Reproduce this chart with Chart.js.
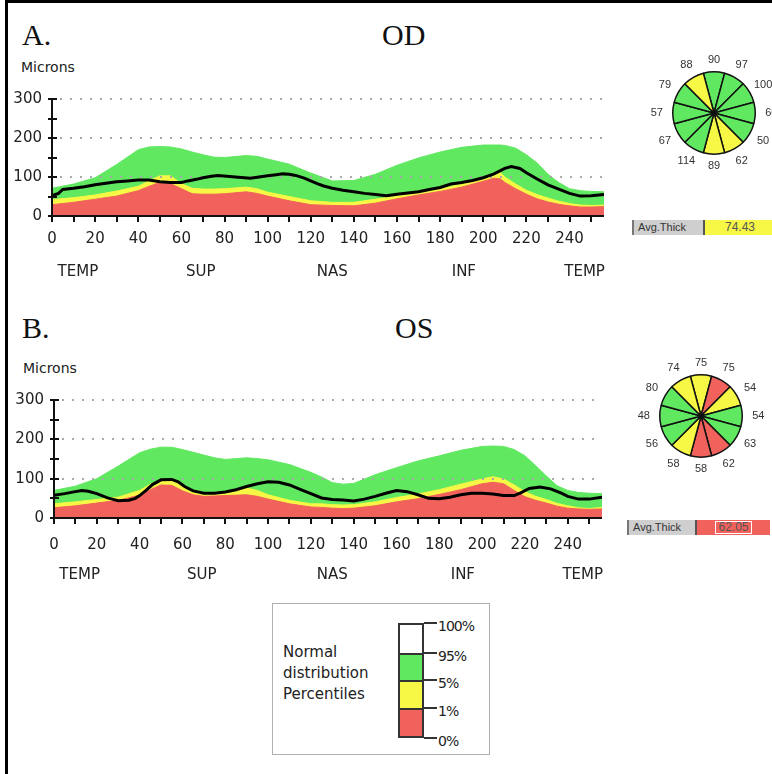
<!DOCTYPE html>
<html>
<head>
<meta charset="utf-8">
<script src="https://cdn.jsdelivr.net/npm/chart.js@4.4.1/dist/chart.umd.min.js"></script>
<style>
  html, body { margin: 0; padding: 0; background: #fff; }
  body {
    width: 772px; height: 774px; position: relative; overflow: hidden;
    font-family: "DejaVu Sans", sans-serif; color: #222;
  }
  .abs { position: absolute; }
  .frame {
    position: absolute; left: 5px; top: 0; width: 820px; height: 820px;
    border-top: 3px solid #000; border-left: 3px solid #000;
  }
  .panel-title { font-family: "Liberation Serif", serif; font-size: 30px; line-height: 30px; white-space: nowrap; color: #111; }
  .unit { font-size: 14px; line-height: 14px; white-space: nowrap; }
  .thick { position: absolute; display: flex; height: 15px; font: 11px "Liberation Sans", Arial, sans-serif; line-height: 15px; }
  .thick-label {
    background: #cfcfcf; color: #333; padding-left: 4px; box-sizing: border-box;
    border-left: 2px solid #777; border-right: 2px solid #555;
  }
  .thick-value { text-align: center; color: #555; box-sizing: border-box; font-size: 12px; }
  .thick-value span { display: inline-block; line-height: 11px; padding: 0 2px; }
  .legend { position: absolute; border: 1px solid #b0b0b0; box-sizing: border-box; background: #fff; }
  .legend-text { position: absolute; left: 10px; top: 38px; font-size: 15px; line-height: 21px; color: #222; }
  .legend-bar { position: absolute; left: 125px; top: 19px; width: 26px; border-left: 2px solid #333; border-right: 2px solid #333; box-sizing: border-box; }
  .legend-bar div { border-top: 2px solid #333; box-sizing: border-box; }
  .legend-bar div:last-child { border-bottom: 2px solid #333; }
  .legend-tick { position: absolute; left: 151px; width: 13px; height: 2px; background: #333; }
  .legend-lab { position: absolute; left: 165px; font-size: 14px; line-height: 14px; letter-spacing: -1px; color: #222; }
</style>
</head>
<body>
<div class="frame"></div>

<div class="abs panel-title" style="left:22px;top:20px">A.</div>
<div class="abs panel-title" style="left:382px;top:20px">OD</div>
<div class="abs unit" style="left:21px;top:60px">Microns</div>
<div class="abs" style="left:0;top:80px;width:620px;height:210px"><canvas id="profileOD" width="620" height="210"></canvas></div>
<div class="abs" style="left:634px;top:33px;width:160px;height:160px"><canvas id="sectorOD" width="160" height="160"></canvas></div>
<div class="thick" id="thickOD" style="left:632px;top:220px"></div>

<div class="abs panel-title" style="left:22px;top:313px">B.</div>
<div class="abs panel-title" style="left:395px;top:313px">OS</div>
<div class="abs unit" style="left:23px;top:361px">Microns</div>
<div class="abs" style="left:0;top:381px;width:620px;height:210px"><canvas id="profileOS" width="620" height="210"></canvas></div>
<div class="abs" style="left:621px;top:336px;width:160px;height:160px"><canvas id="sectorOS" width="160" height="160"></canvas></div>
<div class="thick" id="thickOS" style="left:627px;top:520px"></div>

<div class="legend" id="legend" style="left:272px;top:603px;width:218px;height:152px">
  <div class="legend-text">Normal<br>distribution<br>Percentiles</div>
</div>

<script>
const GREEN = "#60e860";
const YELLOW = "#f7f745";
const RED = "#f2625c";
const CLASS_COLOR = { g: GREEN, y: YELLOW, r: RED };

const X_TICKS = [0, 10, 20, 30, 40, 50, 60, 70, 80, 90, 100, 110, 120, 130, 140, 150, 160, 170, 180, 190, 200, 210, 220, 230, 240, 250];
const Y_TICKS = [0, 50, 100, 150, 200, 250, 300];
const GRID_LINES = [100, 200, 300];
const REGION_NAMES = ["TEMP", "SUP", "NAS", "INF", "TEMP"];
const REGION_AT = [12, 69, 130, 191, 247];

// OD (right eye)
const odBandX = [0, 10, 20, 30, 40, 45, 50, 55, 60, 65, 70, 75, 80, 90, 95, 100, 110, 120, 130, 140, 150, 160, 170, 180, 190, 200, 205, 208, 210, 215, 220, 225, 230, 235, 240, 245, 250, 256];
const odP95 = [71, 82, 98, 132, 170, 177, 178, 177, 172, 164, 157, 151, 150, 155, 153, 146, 133, 110, 90, 91, 107, 130, 149, 164, 176, 182, 182, 182, 181, 174, 157, 136, 107, 86, 70, 65, 63, 62];
const odP5 = [42, 47, 54, 64, 76, 90, 103, 103, 83, 71, 69, 69, 70, 74, 70, 61, 50, 39, 35, 35, 43, 51, 60, 69, 82, 96, 107, 111, 100, 82, 66, 55, 46, 38, 32, 28, 27, 28];
const odP1 = [29, 35, 43, 51, 65, 76, 86, 83, 70, 57, 56, 56, 57, 62, 58, 51, 39, 29, 27, 26, 33, 44, 54, 63, 74, 89, 97, 95, 86, 70, 56, 44, 36, 30, 26, 23, 23, 24];
const odLineX = [0, 3, 5, 10, 15, 20, 25, 30, 35, 40, 45, 50, 55, 60, 63, 67, 70, 74, 77, 81, 85, 92, 96, 100, 104, 107, 110, 113, 117, 120, 123, 126, 130, 135, 140, 145, 150, 155, 160, 165, 170, 175, 180, 185, 190, 195, 200, 205, 210, 213, 217, 220, 225, 230, 235, 240, 245, 250, 256];
const odThickness = [52, 58, 68, 71, 75, 80, 84, 88, 90, 92, 92, 88, 86, 86, 90, 94, 98, 102, 104, 102, 100, 97, 100, 103, 106, 108, 107, 104, 97, 90, 83, 77, 71, 66, 62, 58, 55, 52, 56, 59, 62, 68, 73, 82, 86, 91, 98, 108, 122, 127, 122, 111, 95, 80, 69, 58, 51, 52, 55];
const odSectors = [90, 97, 100, 60, 50, 62, 89, 114, 67, 57, 79, 88];
const odSectorClass = ["g", "g", "g", "g", "g", "y", "y", "g", "g", "g", "g", "y"];
const odAvg = "74.43";

// OS (left eye)
const osBandX = [0, 10, 20, 30, 40, 45, 50, 55, 60, 65, 70, 75, 80, 90, 95, 100, 110, 120, 125, 130, 135, 140, 150, 160, 170, 180, 190, 200, 205, 210, 215, 220, 225, 230, 235, 240, 245, 250, 256];
const osP95 = [70, 81, 100, 132, 166, 175, 180, 180, 174, 167, 160, 153, 149, 153, 151, 148, 136, 116, 104, 90, 86, 88, 110, 128, 145, 158, 172, 182, 183, 182, 174, 158, 133, 107, 82, 70, 65, 63, 62];
const osP5 = [36, 41, 47, 53, 70, 86, 97, 96, 80, 66, 61, 61, 63, 76, 70, 59, 45, 36, 36, 34, 33, 34, 41, 52, 61, 72, 86, 99, 105, 99, 84, 67, 55, 47, 37, 31, 26, 24, 27];
const osP1 = [26, 31, 38, 45, 58, 72, 84, 83, 69, 59, 55, 56, 57, 59, 55, 48, 36, 28, 27, 25, 24, 25, 31, 41, 49, 60, 72, 87, 91, 87, 70, 54, 45, 38, 30, 25, 23, 22, 23];
const osLineX = [0, 5, 10, 13, 16, 20, 25, 30, 35, 38, 40, 43, 46, 50, 55, 58, 61, 65, 70, 75, 80, 85, 90, 95, 100, 105, 110, 115, 120, 125, 130, 135, 140, 145, 150, 155, 160, 165, 170, 175, 180, 185, 190, 195, 200, 205, 210, 215, 218, 222, 227, 232, 237, 240, 245, 250, 256];
const osThickness = [58, 62, 67, 70, 68, 62, 51, 44, 45, 50, 57, 70, 85, 97, 98, 92, 80, 69, 63, 63, 66, 72, 80, 87, 92, 91, 84, 73, 62, 51, 47, 46, 43, 48, 55, 63, 70, 67, 59, 50, 49, 53, 59, 63, 63, 61, 57, 57, 64, 75, 79, 74, 63, 55, 48, 48, 53];
const osSectors = [75, 75, 54, 54, 63, 62, 58, 58, 56, 48, 80, 74];
const osSectorClass = ["y", "r", "y", "g", "g", "r", "r", "y", "g", "g", "g", "y"];
const osAvg = "62.05";

const LEGEND_TICKS = ["100%", "95%", "5%", "1%", "0%"];
const LEGEND_COLORS = ["#fff", GREEN, YELLOW, RED];

const TICK_FONT = { family: "'DejaVu Sans', sans-serif", size: 15 };

const pts = (xs, ys) => xs.map((x, i) => ({ x, y: ys[i] }));

// dotted guides go under the thickness line, axes on top of everything
const profileAxes = {
  id: "profileAxes",
  beforeDatasetDraw(chart, args) {
    if (args.index !== 0) return;
    const { ctx, chartArea: a, scales: { y } } = chart;
    ctx.save();
    ctx.strokeStyle = "#a9a9a9";
    ctx.lineWidth = 2;
    ctx.setLineDash([2, 8]);
    GRID_LINES.forEach((v) => {
      const py = Math.round(y.getPixelForValue(v));
      ctx.beginPath();
      ctx.moveTo(a.left + 8, py);
      ctx.lineTo(a.right, py);
      ctx.stroke();
    });
    ctx.restore();
  },
  afterDraw(chart, args, opts) {
    const { ctx, chartArea: a, scales: { x, y } } = chart;
    const x0 = Math.round(x.getPixelForValue(0));
    const y0 = Math.round(y.getPixelForValue(0));
    ctx.save();
    ctx.strokeStyle = "#111";
    ctx.lineWidth = 2;
    ctx.beginPath();
    ctx.moveTo(x0, Math.round(y.getPixelForValue(300)) - 1);
    ctx.lineTo(x0, y0);
    ctx.lineTo(a.right, y0);
    Y_TICKS.forEach((v) => {
      const py = Math.round(y.getPixelForValue(v));
      ctx.moveTo(x0 - 4, py);
      ctx.lineTo(x0 + 5, py);
    });
    X_TICKS.forEach((v) => {
      const px = Math.round(x.getPixelForValue(v));
      ctx.moveTo(px, y0);
      ctx.lineTo(px, y0 + 6);
    });
    ctx.stroke();

    ctx.fillStyle = "#222";
    ctx.font = "15px 'DejaVu Sans', sans-serif";
    ctx.textAlign = "center";
    ctx.textBaseline = "middle";
    REGION_NAMES.forEach((name, i) => {
      ctx.fillText(name, x.getPixelForValue(REGION_AT[i]), y0 + opts.regionOffset);
    });
    ctx.restore();
  },
};

function makeProfile(id, lay, bandX, p95, p5, p1, lineX, line) {
  const area = (ys, color) => ({
    data: pts(bandX, ys),
    borderColor: color,
    backgroundColor: color,
    borderWidth: 1,
    pointRadius: 0,
    tension: 0,
    fill: "origin",
  });
  return new Chart(document.getElementById(id), {
    type: "line",
    data: {
      datasets: [
        { data: pts(lineX, line), borderColor: "#000", borderWidth: 3, pointRadius: 0, tension: 0, fill: false },
        area(p1, RED),
        area(p5, YELLOW),
        area(p95, GREEN),
      ],
    },
    options: {
      responsive: false,
      animation: false,
      events: [],
      layout: { padding: { left: 0, right: lay.padRight, top: 17, bottom: 0 } },
      plugins: {
        legend: { display: false },
        tooltip: { enabled: false },
        profileAxes: { regionOffset: lay.regionOffset },
      },
      scales: {
        x: {
          type: "linear",
          min: 0,
          max: 256,
          afterBuildTicks: (s) => { s.ticks = X_TICKS.map((v) => ({ value: v })); },
          afterFit: (s) => { s.height = lay.xHeight; },
          ticks: {
            autoSkip: false,
            maxRotation: 0,
            padding: lay.xPad,
            color: "#222",
            font: TICK_FONT,
            callback: (v) => (v % 20 === 0 ? v : ""),
          },
          grid: { display: false, drawTicks: false },
          border: { display: false },
        },
        y: {
          min: 0,
          max: 300,
          afterBuildTicks: (s) => { s.ticks = Y_TICKS.map((v) => ({ value: v })); },
          afterFit: (s) => { s.width = lay.yWidth; },
          ticks: {
            padding: 10,
            color: "#222",
            font: TICK_FONT,
            callback: (v) => (v % 100 === 0 ? v : ""),
          },
          grid: { display: false, drawTicks: false },
          border: { display: false },
        },
      },
    },
    plugins: [profileAxes],
  });
}

const sectorLabels = {
  id: "sectorLabels",
  afterDraw(chart) {
    const arcs = chart.getDatasetMeta(0).data;
    const ctx = chart.ctx;
    ctx.save();
    ctx.font = "11px 'Liberation Sans', Arial, sans-serif";
    ctx.fillStyle = "#333";
    ctx.textAlign = "center";
    ctx.textBaseline = "middle";
    arcs.forEach((a, i) => {
      const mid = (a.startAngle + a.endAngle) / 2;
      const r = a.outerRadius + 12 + 4 * Math.abs(Math.cos(mid));
      ctx.fillText(String(chart.data.labels[i]), a.x + r * Math.cos(mid), a.y + r * Math.sin(mid));
    });
    ctx.restore();
  },
};

function makeSectors(id, values, classes) {
  return new Chart(document.getElementById(id), {
    type: "pie",
    data: {
      labels: values,
      datasets: [{
        // twelve clock-hour sectors of equal angle
        data: values.map(() => 1),
        backgroundColor: classes.map((c) => CLASS_COLOR[c]),
        borderColor: "#111",
        borderWidth: 1.5,
      }],
    },
    options: {
      responsive: false,
      animation: false,
      events: [],
      rotation: -15,
      layout: { padding: 38 },
      plugins: { legend: { display: false }, tooltip: { enabled: false } },
    },
    plugins: [sectorLabels],
  });
}

function fillThick(id, value, color, labelW, valueW, boxed) {
  const box = document.getElementById(id);
  const inner = boxed ? `<span style="border:1px solid #fff">${value}</span>` : value;
  box.innerHTML = `<div class="thick-label" style="width:${labelW}px">Avg.Thick</div>` +
    `<div class="thick-value" style="width:${valueW}px;background:${color}">${inner}</div>`;
}

function buildLegend() {
  const box = document.getElementById("legend");
  const heights = [30, 27, 28, 30];
  const bar = document.createElement("div");
  bar.className = "legend-bar";
  let html = "";
  LEGEND_COLORS.forEach((c, i) => {
    html += `<div style="height:${heights[i]}px;background:${c}"></div>`;
  });
  bar.innerHTML = html;
  box.appendChild(bar);
  let y = 19;
  LEGEND_TICKS.forEach((t, i) => {
    const tick = document.createElement("div");
    tick.className = "legend-tick";
    tick.style.top = (y - 1) + "px";
    box.appendChild(tick);
    const lab = document.createElement("div");
    lab.className = "legend-lab";
    lab.style.top = (y - 4) + "px";
    lab.textContent = t;
    box.appendChild(lab);
    if (i < heights.length) y += heights[i];
  });
}

makeProfile("profileOD", { padRight: 16, xHeight: 74, yWidth: 52, xPad: 14, regionOffset: 56 },
  odBandX, odP95, odP5, odP1, odLineX, odThickness);
makeProfile("profileOS", { padRight: 18, xHeight: 73, yWidth: 54, xPad: 18, regionOffset: 57 },
  osBandX, osP95, osP5, osP1, osLineX, osThickness);
makeSectors("sectorOD", odSectors, odSectorClass);
makeSectors("sectorOS", osSectors, osSectorClass);
fillThick("thickOD", odAvg, YELLOW, 73, 70, false);
fillThick("thickOS", osAvg, RED, 70, 73, true);
buildLegend();
</script>
</body>
</html>
